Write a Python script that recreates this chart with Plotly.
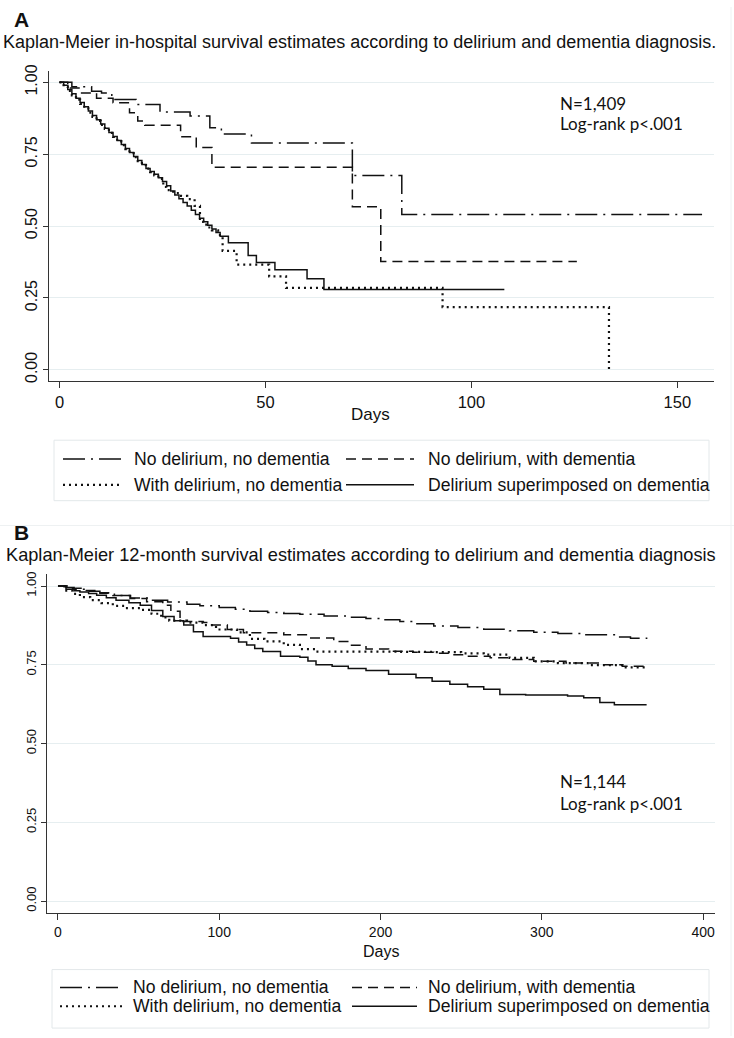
import plotly.graph_objects as go

W, H = 734, 1038

labels = ["No delirium, no dementia", "No delirium, with dementia",
          "With delirium, no dementia", "Delirium superimposed on dementia"]

# panel A: in-hospital survival (days, survival)
a_nodel_nodem_t = [0, 3, 7.8, 10.2, 12.7, 18.6, 24.4, 31.7, 36.5, 39.3, 46.6, 71.1, 83.1, 156]
a_nodel_nodem_s = [1.0, 0.985, 0.969, 0.963, 0.94, 0.923, 0.897, 0.883, 0.842, 0.82, 0.789, 0.676, 0.54, 0.54]

a_nodel_dem_t = [0, 2, 5, 9, 13, 17, 19, 20.7, 29.4, 33.2, 37, 71.1, 78, 125.6]
a_nodel_dem_s = [1.0, 0.98, 0.963, 0.945, 0.929, 0.894, 0.866, 0.851, 0.811, 0.773, 0.705, 0.567, 0.377, 0.377]

a_del_nodem_t = [0, 1, 2, 3, 4, 5, 6, 7, 8, 9, 10, 11, 12, 13, 14, 15, 16, 17, 18, 19, 20, 21, 22, 23, 24,
                 25.2, 26, 27.6, 29.5, 31, 32.8, 34.1, 35, 36, 37, 38.5, 39.6, 43, 50.9, 55, 93, 133.4]
a_del_nodem_s = [1.0, 0.985, 0.97, 0.955, 0.94, 0.925, 0.91, 0.895, 0.88, 0.866, 0.852, 0.838, 0.824, 0.81,
                 0.796, 0.782, 0.768, 0.754, 0.74, 0.726, 0.712, 0.70, 0.688, 0.676, 0.664,
                 0.636, 0.625, 0.615, 0.605, 0.594, 0.57, 0.515, 0.505, 0.495, 0.485, 0.469, 0.414, 0.366,
                 0.325, 0.285, 0.218, 0.0]

a_del_dem_t = [0, 1, 2, 3, 4, 5, 6, 7, 8, 9, 10, 11, 12, 13, 14, 15, 16, 17, 18, 19, 20, 21, 22, 23, 24,
               25, 26, 27, 28, 29, 30, 31, 32, 33, 34, 35, 36, 37, 38, 39, 41, 45.8, 47.8, 52.3, 60.1, 64.2, 108]
a_del_dem_s = [1.0, 0.99, 0.975, 0.96, 0.945, 0.93, 0.915, 0.90, 0.885, 0.87, 0.855, 0.84, 0.826, 0.812,
               0.798, 0.784, 0.77, 0.756, 0.742, 0.728, 0.714, 0.70, 0.69, 0.68, 0.668, 0.655, 0.64,
               0.622, 0.608, 0.595, 0.582, 0.57, 0.555, 0.54, 0.527, 0.515, 0.503, 0.49, 0.478, 0.465,
               0.442, 0.398, 0.373, 0.348, 0.317, 0.279, 0.279]

# panel B: 12-month survival
b_nodel_nodem_t = [0, 5, 10, 18, 26, 35, 45, 57, 68, 80, 88, 100, 110, 119, 130, 140, 150, 165, 180, 191,
                   200, 212, 222, 233, 248, 264, 280, 295, 310, 326, 345, 355, 365]
b_nodel_nodem_s = [1.0, 0.995, 0.99, 0.983, 0.977, 0.97, 0.962, 0.955, 0.949, 0.942, 0.937, 0.932, 0.926,
                   0.92, 0.916, 0.913, 0.91, 0.905, 0.901, 0.897, 0.893, 0.887, 0.88, 0.873, 0.868, 0.863,
                   0.858, 0.853, 0.849, 0.845, 0.838, 0.834, 0.832]

b_nodel_dem_t = [0, 8, 16, 24, 34, 44.7, 55, 65, 70, 75.7, 90, 94, 105, 115, 140, 155, 171, 182, 191, 205,
                 220, 233, 245, 253, 268, 282, 295, 315, 335, 350, 364]
b_nodel_dem_s = [1.0, 0.993, 0.986, 0.979, 0.97, 0.96, 0.95, 0.939, 0.92, 0.887, 0.884, 0.876, 0.862, 0.852,
                 0.845, 0.835, 0.824, 0.812, 0.8, 0.793, 0.79, 0.787, 0.782, 0.777, 0.772, 0.767, 0.761,
                 0.756, 0.75, 0.745, 0.74]

b_del_nodem_t = [0, 4, 9, 13.6, 20, 27, 34, 42, 51, 58, 64, 69, 80, 90, 98, 111, 119, 128, 140, 150, 160,
                 175, 191, 210, 233, 250, 264, 280, 295, 310, 330, 350, 364]
b_del_nodem_s = [1.0, 0.985, 0.975, 0.965, 0.955, 0.946, 0.937, 0.93, 0.924, 0.912, 0.9, 0.89, 0.884, 0.876,
                 0.862, 0.853, 0.832, 0.824, 0.813, 0.8, 0.792, 0.792, 0.792, 0.791, 0.79, 0.786, 0.782,
                 0.772, 0.761, 0.755, 0.749, 0.742, 0.738]

b_del_dem_t = [0, 5, 10, 13.6, 19, 24, 30, 36, 44, 51, 58, 65, 72, 78, 84, 90, 107, 112, 117, 122, 127, 138,
               150, 155, 160, 170, 180, 191, 205, 222, 232, 243, 254, 264, 274, 290, 316, 326, 336, 345, 365]
b_del_dem_s = [1.0, 0.99, 0.985, 0.981, 0.976, 0.971, 0.963, 0.955, 0.947, 0.939, 0.922, 0.903, 0.89, 0.876,
               0.855, 0.84, 0.834, 0.822, 0.813, 0.802, 0.792, 0.777, 0.774, 0.762, 0.75, 0.745, 0.738,
               0.732, 0.72, 0.709, 0.698, 0.688, 0.68, 0.672, 0.656, 0.654, 0.651, 0.645, 0.63, 0.623, 0.623]

y_ticks = [0, 0.25, 0.5, 0.75, 1.0]
y_ticktext = ["0.00", "0.25", "0.50", "0.75", "1.00"]
a_xticks = [0, 50, 100, 150]
b_xticks = [0, 100, 200, 300, 400]

# line looks per group
styles = [
    dict(dash="22px,6px,2px,6px", width=1.5),
    dict(dash="10px,6px", width=1.5),
    dict(dash="2px,4px", width=2.2),
    dict(dash="solid", width=1.5),
]

def X(px):
    return px / W

def Y(py):
    return 1 - py / H

fig = go.Figure()

panel_a = [(a_nodel_nodem_t, a_nodel_nodem_s), (a_nodel_dem_t, a_nodel_dem_s),
           (a_del_nodem_t, a_del_nodem_s), (a_del_dem_t, a_del_dem_s)]
panel_b = [(b_nodel_nodem_t, b_nodel_nodem_s), (b_nodel_dem_t, b_nodel_dem_s),
           (b_del_nodem_t, b_del_nodem_s), (b_del_dem_t, b_del_dem_s)]

for i, (t, s) in enumerate(panel_a):
    fig.add_trace(go.Scatter(x=t, y=s, mode="lines", line_shape="hv", name=labels[i],
                             line=dict(color="#111111", **styles[i]), showlegend=False,
                             xaxis="x", yaxis="y"))
for i, (t, s) in enumerate(panel_b):
    fig.add_trace(go.Scatter(x=t, y=s, mode="lines", line_shape="hv", name=labels[i],
                             line=dict(color="#111111", **styles[i]), showlegend=False,
                             xaxis="x2", yaxis="y2"))

axis_common = dict(showline=True, linecolor="#333333", linewidth=1, ticks="outside",
                   tickcolor="#333333", zeroline=False, color="#111111")

fig.update_layout(
    width=W, height=H,
    margin=dict(l=0, r=0, t=0, b=0),
    paper_bgcolor="white", plot_bgcolor="white",
    font=dict(family="Liberation Sans, Arial, sans-serif", color="#111111"),
    xaxis=dict(domain=[X(49), X(714)], range=[-2.55, 158.9], anchor="y",
               tickvals=a_xticks, ticklen=6, showgrid=False,
               tickfont=dict(size=16.5), **axis_common),
    yaxis=dict(domain=[Y(377), Y(65)], range=[-0.038, 1.038], anchor="x",
               tickvals=y_ticks, ticktext=y_ticktext, tickangle=-90, ticklen=5,
               showgrid=True, gridcolor="#e6eef0", gridwidth=1,
               tickfont=dict(size=16), **axis_common),
    xaxis2=dict(domain=[X(47), X(715)], range=[-6.8, 407.4], anchor="y2",
                tickvals=b_xticks, ticklen=6, showgrid=False,
                tickfont=dict(size=14), **axis_common),
    yaxis2=dict(domain=[Y(914), Y(572)], range=[-0.038, 1.038], anchor="x2",
                tickvals=y_ticks, ticktext=y_ticktext, tickangle=-90, ticklen=5,
                showgrid=True, gridcolor="#e6eef0", gridwidth=1,
                tickfont=dict(size=13), **axis_common),
)

ann = [
    dict(text="<b>A</b>", x=X(12), y=Y(13), size=21),
    dict(text="Kaplan-Meier in-hospital survival estimates according to delirium and dementia diagnosis.",
         x=X(1), y=Y(35), size=18),
    dict(text="Days", x=X(370), y=Y(411), size=17, xanchor="center"),
    dict(text="<b>B</b>", x=X(12), y=Y(530), size=21),
    dict(text="Kaplan-Meier 12-month survival estimates according to delirium and dementia diagnosis",
         x=X(4), y=Y(553), size=18.2),
    dict(text="Days", x=X(381), y=Y(953), size=16, xanchor="center"),
]
for a in ann:
    fig.add_annotation(text=a["text"], x=a["x"], y=a["y"], xref="paper", yref="paper",
                       xanchor=a.get("xanchor", "left"), yanchor="middle", showarrow=False,
                       font=dict(size=a["size"], color="#111111"))

for txt, yy in [("N=1,409", 97), ("Log-rank p<.001", 118), ("N=1,144", 781), ("Log-rank p<.001", 803)]:
    fig.add_annotation(text=txt, x=X(558), y=Y(yy), xref="paper", yref="paper",
                       xanchor="left", yanchor="middle", showarrow=False,
                       font=dict(family="Lato, Open Sans, sans-serif", size=17, color="#111111"))

# legends drawn as boxes with line samples
legend_boxes = [
    dict(box=(54, 437, 709, 498), rows=(456, 482), samples=((63, 122), (346, 414)), text_x=(132, 426)),
    dict(box=(52, 971, 709, 1030), rows=(989, 1008), samples=((60, 122), (352, 417)), text_x=(131, 426)),
]
for lb in legend_boxes:
    x0, y0, x1, y1 = lb["box"]
    fig.add_shape(type="rect", xref="paper", yref="paper", x0=X(x0), x1=X(x1), y0=Y(y1), y1=Y(y0),
                  line=dict(color="#e3e8ea", width=1), fillcolor="white", layer="below")
    for i in range(4):
        row = lb["rows"][i // 2]
        col = i % 2
        sx0, sx1 = lb["samples"][col]
        fig.add_shape(type="line", xref="paper", yref="paper", x0=X(sx0), x1=X(sx1), y0=Y(row), y1=Y(row),
                      line=dict(color="#111111", **styles[i]))
        fig.add_annotation(text=labels[i], x=X(lb["text_x"][col]), y=Y(row), xref="paper", yref="paper",
                           xanchor="left", yanchor="middle", showarrow=False,
                           font=dict(size=17.6, color="#111111"))

# faint panel borders
fig.add_shape(type="line", xref="paper", yref="paper", x0=0, x1=1, y0=Y(523), y1=Y(523),
              line=dict(color="#eef1f2", width=1))
fig.add_shape(type="line", xref="paper", yref="paper", x0=X(731), x1=X(731), y0=0, y1=1,
              line=dict(color="#eef1f2", width=1))

fig.write_html("out.html", config={"displayModeBar": False},
               post_script="document.body.style.margin='0';document.body.style.overflow='hidden';")
